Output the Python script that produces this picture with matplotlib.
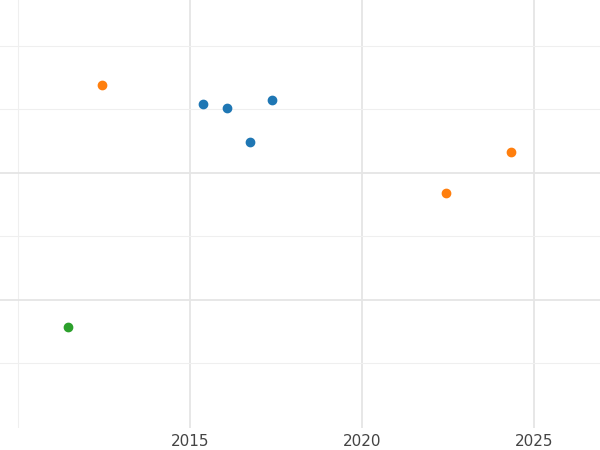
import matplotlib.pyplot as plt

blue_x = [2015.38, 2016.08, 2016.74, 2017.38]
blue_y = [2.543, 2.512, 2.244, 2.575]
orange_x = [2012.44, 2022.44, 2024.33]
orange_y = [2.693, 1.843, 2.165]
green_x = [2011.45]
green_y = [0.787]

fig = plt.figure(figsize=(6, 4.5), dpi=100)
ax = fig.add_axes([0, 22 / 450, 1, 428 / 450])

ax.scatter(blue_x, blue_y, color="#1f77b4", s=36, zorder=3)
ax.scatter(orange_x, orange_y, color="#ff7f0e", s=36, zorder=3)
ax.scatter(green_x, green_y, color="#2ca02c", s=36, zorder=3)

ax.set_xlim(2009.48, 2026.92)
ax.set_ylim(-0.008, 3.362)
ax.set_xticks([2015, 2020, 2025])
ax.set_xticks([2010], minor=True)
ax.set_yticks([1, 2])
ax.set_yticks([0.5, 1.5, 2.5, 3.0], minor=True)
ax.grid(which="major", color="#e5e5e5", lw=1.3)
ax.grid(which="minor", color="#efefef", lw=0.8)
ax.set_axisbelow(True)
for s in ax.spines.values():
    s.set_visible(False)
ax.tick_params(which="both", length=0, labelsize=11, labelcolor="#444444")
ax.tick_params(axis="y", labelleft=False)
ax.tick_params(axis="x", pad=4)

fig.savefig("out.png", dpi=100)
